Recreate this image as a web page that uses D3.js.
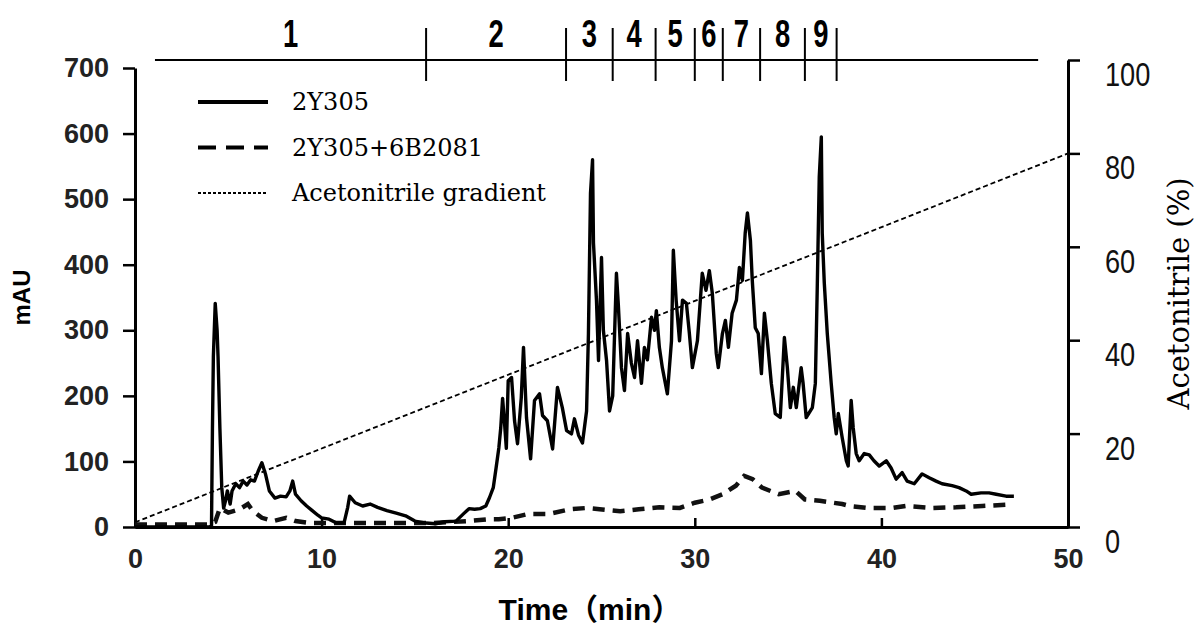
<!DOCTYPE html>
<html>
<head>
<meta charset="utf-8">
<script src="https://cdn.jsdelivr.net/npm/d3@7"></script>
<style>
  body { margin: 0; background: #fff; }
  svg { display: block; }
</style>
</head>
<body>
<svg id="chart" width="1195" height="630"></svg>
<script>
// chromatogram 2Y305 (solid) - time in min, absorbance in mAU
const solidTime = [0, 4.0, 4.1, 4.15, 4.2, 4.3, 4.4, 4.45, 4.55, 4.65, 4.75, 4.85, 4.95, 5.1, 5.2, 5.4, 5.6, 5.8, 6.0, 6.2, 6.4, 6.6, 6.8, 7.0, 7.2, 7.5, 7.8, 8.1, 8.3, 8.45, 8.6, 8.9, 9.2, 9.5, 9.8, 10.0, 10.4, 10.8, 11.2, 11.4, 11.5, 11.8, 12.2, 12.6, 13.0, 13.5, 14.0, 14.5, 15.0, 15.6, 16.1, 16.6, 17.2, 17.6, 17.9, 18.2, 18.5, 18.8, 19.0, 19.2, 19.35, 19.5, 19.6, 19.7, 19.8, 19.9, 20.0, 20.18, 20.34, 20.5, 20.7, 20.82, 20.98, 21.2, 21.41, 21.68, 21.84, 22.1, 22.38, 22.64, 22.9, 23.13, 23.39, 23.55, 23.77, 23.98, 24.2, 24.3, 24.41, 24.52, 24.57, 24.73, 24.84, 25.0, 25.1, 25.27, 25.43, 25.6, 25.8, 25.9, 26.07, 26.23, 26.4, 26.6, 26.77, 26.93, 27.14, 27.3, 27.46, 27.68, 27.84, 27.94, 28.1, 28.26, 28.53, 28.75, 28.85, 29.0, 29.18, 29.34, 29.55, 29.71, 29.87, 30.14, 30.4, 30.6, 30.78, 30.94, 31.15, 31.26, 31.48, 31.64, 31.8, 32.0, 32.23, 32.39, 32.55, 32.7, 32.82, 32.98, 33.08, 33.24, 33.4, 33.57, 33.73, 33.89, 34.1, 34.31, 34.58, 34.8, 34.96, 35.12, 35.28, 35.44, 35.7, 35.8, 35.97, 36.3, 36.46, 36.56, 36.67, 36.78, 36.83, 36.94, 37.1, 37.31, 37.47, 37.58, 37.69, 37.9, 38.12, 38.22, 38.38, 38.49, 38.65, 38.81, 39.08, 39.35, 39.6, 39.88, 40.26, 40.52, 40.79, 41.11, 41.38, 41.76, 42.18, 42.56, 42.93, 43.25, 43.79, 44.16, 44.54, 44.81, 45.34, 45.77, 46.15, 46.68, 47.1];
const solidMAU = [0, 0, 2, 150, 260, 341, 300, 260, 150, 60, 29, 40, 55, 35, 55, 66, 60, 70, 64, 72, 70, 85, 98, 80, 55, 44, 47, 46, 55, 70, 50, 40, 32, 25, 18, 14, 12, 6, 6, 30, 47, 37, 32, 35, 30, 25, 21, 17, 9, 6, 5, 8, 9, 20, 28, 27, 28, 32, 45, 60, 90, 121, 151, 196, 160, 120, 223, 228, 162, 127, 197, 274, 167, 104, 193, 203, 170, 162, 119, 213, 182, 147, 142, 165, 140, 128, 177, 295, 509, 560, 433, 346, 254, 411, 300, 254, 177, 200, 387, 340, 243, 208, 295, 250, 228, 284, 219, 274, 255, 320, 300, 330, 274, 243, 203, 284, 422, 346, 284, 346, 341, 295, 243, 284, 387, 361, 391, 356, 265, 243, 295, 315, 274, 326, 346, 396, 376, 448, 479, 437, 376, 304, 295, 234, 326, 284, 219, 173, 167, 289, 243, 182, 213, 182, 243, 220, 167, 182, 219, 361, 534, 595, 448, 372, 295, 219, 167, 142, 173, 136, 101, 93, 193, 151, 112, 101, 112, 110, 101, 93, 101, 90, 73, 83, 70, 66, 81, 75, 70, 66, 63, 60, 55, 50, 52, 52, 50, 47, 47];

// chromatogram 2Y305+6B2081 (dashed)
const dashedTime = [0, 4.0, 4.3, 4.55, 5.0, 5.6, 6.05, 6.3, 6.8, 7.4, 8.1, 8.6, 9.4, 10.5, 12.0, 14.0, 16.0, 17.8, 19.0, 19.5, 20.2, 21.1, 22.2, 23.3, 24.2, 24.9, 26.0, 27.0, 28.1, 29.2, 30.0, 30.8, 31.5, 32.2, 32.65, 33.1, 33.6, 34.5, 35.4, 35.9, 36.7, 37.9, 38.3, 39.3, 40.6, 41.3, 42.7, 44.0, 45.4, 46.7];
const dashedMAU = [4, 4, 8, 29, 22, 27, 35, 25, 14, 9, 14, 9, 6, 6, 6, 6, 6, 9, 12, 12, 14, 20, 20, 27, 29, 27, 24, 27, 30, 29, 37, 42, 50, 63, 78, 73, 60, 50, 55, 42, 40, 35, 32, 29, 29, 32, 29, 30, 32, 34];

// acetonitrile gradient (%)
const gradientTime = [0, 50];
const gradientPct = [1, 80];

// fraction bar on top
const fractionStart = 1.07;
const fractionEnd = 48.4;
const fractionCuts = [15.6, 23.1, 25.6, 27.9, 30.0, 31.5, 33.5, 35.9, 37.6];
const fractionNames = ["1", "2", "3", "4", "5", "6", "7", "8", "9"];

const xTicks = [0, 10, 20, 30, 40, 50];
const yTicks = [0, 100, 200, 300, 400, 500, 600, 700];
const yRightTicks = [0, 20, 40, 60, 80, 100];

const legendNames = ["2Y305", "2Y305+6B2081", "Acetonitrile gradient"];

const svg = d3.select("#chart");

const x = d3.scaleLinear().domain([0, 50]).range([135, 1068]);
const y = d3.scaleLinear().domain([0, 700]).range([527, 68]);
const yR = d3.scaleLinear().domain([0, 100]).range([527, 60]);

const tickFont = "'Liberation Sans', Arial, sans-serif";
const serifFont = "'DejaVu Serif', 'Liberation Serif', serif";

// left axis
const leftAxis = svg.append("g")
    .attr("transform", `translate(${x(0)},0)`)
    .call(d3.axisLeft(y).tickValues(yTicks).tickSize(12).tickPadding(14).tickSizeOuter(0));
leftAxis.select(".domain").attr("stroke-width", 3);
leftAxis.selectAll(".tick line").attr("stroke-width", 2.5);
leftAxis.selectAll(".tick text")
    .style("font-family", tickFont)
    .style("font-size", "27px")
    .style("font-weight", "bold")
    .attr("fill", "#222");

// bottom axis, ticks pointing inwards
const bottomAxis = svg.append("g")
    .attr("transform", `translate(0,${y(0)})`)
    .call(d3.axisBottom(x).tickValues(xTicks).tickSize(-9).tickPadding(22).tickSizeOuter(0));
bottomAxis.select(".domain").attr("stroke-width", 3);
bottomAxis.selectAll(".tick line").attr("stroke-width", 2.5);
bottomAxis.selectAll(".tick text")
    .style("font-family", tickFont)
    .style("font-size", "27px")
    .style("font-weight", "bold")
    .attr("fill", "#222");

// right axis - condensed labels, squeezed horizontally
const rightAxis = svg.append("g")
    .attr("transform", `translate(${x(50)},0)`)
    .call(d3.axisRight(yR).tickValues(yRightTicks).tickSize(12).tickPadding(0).tickSizeOuter(0));
rightAxis.select(".domain").attr("stroke-width", 3);
rightAxis.selectAll(".tick line").attr("stroke-width", 2.5);
rightAxis.selectAll(".tick text")
    .attr("x", 0)
    .attr("dy", "0.75em")
    .attr("transform", "translate(37,0) scale(0.8,1)")
    .style("font-family", tickFont)
    .style("font-size", "34px")
    .attr("fill", "#111");

// axis titles
svg.append("text")
    .attr("transform", `translate(30,${(y(0) + y(700)) / 2}) rotate(-90)`)
    .attr("text-anchor", "middle")
    .style("font-family", tickFont)
    .style("font-size", "24px")
    .style("font-weight", "bold")
    .text("mAU");

svg.append("text")
    .attr("x", 590)
    .attr("y", 620)
    .attr("text-anchor", "middle")
    .style("font-family", "'Liberation Sans', 'Noto Sans CJK JP', sans-serif")
    .style("font-size", "30px")
    .style("font-weight", "bold")
    .text("Time（min）");

svg.append("text")
    .attr("transform", `translate(1189,${(yR(0) + yR(100)) / 2}) rotate(-90)`)
    .attr("text-anchor", "middle")
    .style("font-family", serifFont)
    .style("font-size", "29px")
    .text("Acetonitrile (%)");

// traces
const lineOf = (xs, ys, scaleY) => d3.line()
    .x((d, i) => x(xs[i]))
    .y(d => scaleY(d))(ys);

svg.append("path")
    .attr("d", lineOf(gradientTime, gradientPct, yR))
    .attr("fill", "none")
    .attr("stroke", "#000")
    .attr("stroke-width", 1.8)
    .attr("stroke-dasharray", "5,3");

svg.append("path")
    .attr("d", lineOf(dashedTime, dashedMAU, y))
    .attr("fill", "none")
    .attr("stroke", "#111")
    .attr("stroke-width", 4.5)
    .attr("stroke-dasharray", "12,8");

svg.append("path")
    .attr("d", lineOf(solidTime, solidMAU, y))
    .attr("fill", "none")
    .attr("stroke", "#000")
    .attr("stroke-width", 3.4)
    .attr("stroke-linejoin", "round");

// legend
const legendStyles = [
    {dash: null, width: 4},
    {dash: "18,10", width: 4},
    {dash: "3,2", width: 2}
];
const legend = svg.append("g");
legendNames.forEach((name, i) => {
    const ly = 102 + i * 45.5;
    const ln = legend.append("line")
        .attr("x1", 198).attr("x2", 268)
        .attr("y1", ly).attr("y2", ly)
        .attr("stroke", "#000")
        .attr("stroke-width", legendStyles[i].width);
    if (legendStyles[i].dash) ln.attr("stroke-dasharray", legendStyles[i].dash);
    legend.append("text")
        .attr("x", 292)
        .attr("y", ly + 8)
        .style("font-family", serifFont)
        .style("font-size", "24px")
        .text(name);
});

// fraction bar
const bar = svg.append("g");
bar.append("line")
    .attr("x1", x(fractionStart)).attr("x2", x(fractionEnd))
    .attr("y1", 60).attr("y2", 60)
    .attr("stroke", "#000")
    .attr("stroke-width", 2);
bar.selectAll("line.cut")
    .data(fractionCuts)
    .enter()
    .append("line")
    .attr("class", "cut")
    .attr("x1", d => x(d)).attr("x2", d => x(d))
    .attr("y1", 28).attr("y2", 81)
    .attr("stroke", "#000")
    .attr("stroke-width", 2);
const bounds = [fractionStart].concat(fractionCuts);
bar.selectAll("text")
    .data(fractionNames)
    .enter()
    .append("text")
    .attr("transform", (d, i) => `translate(${(x(bounds[i]) + x(bounds[i + 1])) / 2},47) scale(0.72,1)`)
    .attr("text-anchor", "middle")
    .style("font-family", tickFont)
    .style("font-size", "38px")
    .style("font-weight", "bold")
    .text(d => d);
</script>
</body>
</html>
